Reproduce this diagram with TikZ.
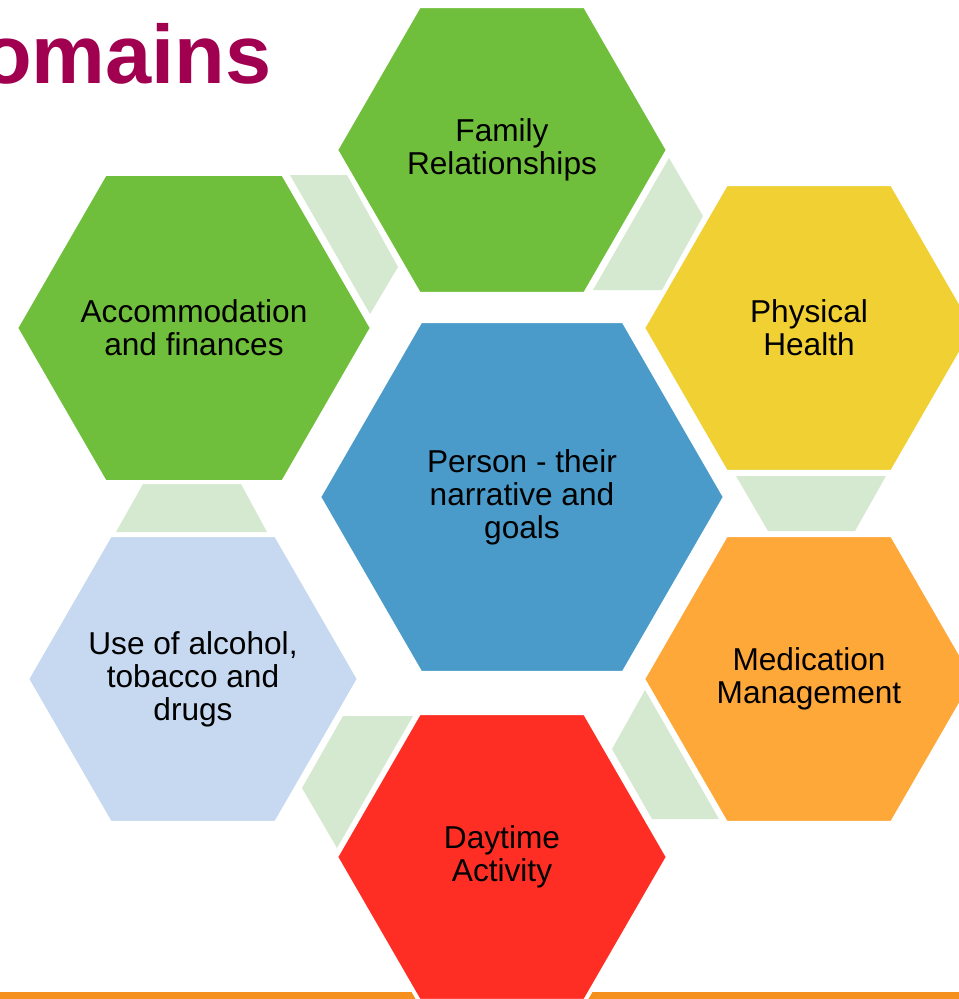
\documentclass[tikz,border=0pt]{standalone}
\usepackage{fontspec}
\setmainfont{Liberation Sans}
\usetikzlibrary{shapes.geometric}
\definecolor{hexgreen}{HTML}{70BF3C}
\definecolor{hexyellow}{HTML}{F0D032}
\definecolor{hexblue}{HTML}{4A9BC9}
\definecolor{hexorange}{HTML}{FFA83A}
\definecolor{hexred}{HTML}{FF2E24}
\definecolor{hexpale}{HTML}{C6D9F0}
\definecolor{linkgreen}{HTML}{D5E8D0}
\definecolor{titlered}{HTML}{A0004F}
\definecolor{barorange}{HTML}{F5901E}
\tikzset{
  hexa/.style={regular polygon, regular polygon sides=6, fill=#1, draw=white,
    line width=1mm, inner sep=-15mm, align=center,
    font=\fontsize{22.5}{23.4}\selectfont},
  link/.style={fill=linkgreen}
}

\begin{document}
\begin{tikzpicture}[x=0.25mm,y=-0.25mm]
   \useasboundingbox (0,0) rectangle (959,999);
   \fill[barorange] (0,992) rectangle (959,999);
   \begin{scope}
   \clip (0,0) rectangle (959,999);
   \node[anchor=base west, inner sep=0pt, text=titlered,
     font=\bfseries\fontsize{59}{70}\selectfont] (title) at (-19,83) {omains};
   % links between the domains
   \fill[link] (290,175) -- (347,175) -- (398,267) -- (370,314) -- cycle;
   \fill[link] (669,158) -- (703,216) -- (662,290) -- (593,290) -- cycle;
   \fill[link] (143,484) -- (241,484) -- (267,532) -- (116,532) -- cycle;
   \fill[link] (736,476) -- (886,476) -- (855,531) -- (768,531) -- cycle;
   \fill[link] (343,716) -- (413,716) -- (337,848) -- (302,788) -- cycle;
   \fill[link] (645,690) -- (612,749) -- (652,819) -- (719,819) -- cycle;
   % domains
   \node[hexa=hexgreen, minimum size=83mm] (family) at (502,150) {Family\\Relationships};
   \node[hexa=hexgreen, minimum size=89mm] (accom) at (194,328) {Accommodation\\and finances};
   \node[hexa=hexyellow, minimum size=83mm] (health) at (809,328) {Physical\\Health};
   \node[hexa=hexblue, minimum size=101.5mm] (person) at (522,497) {Person - their\\narrative and\\goals};
   \node[hexa=hexpale, minimum size=83mm] (alcohol) at (193,679) {Use of alcohol,\\tobacco and\\drugs};
   \node[hexa=hexorange, minimum size=83mm] (meds) at (809,679) {Medication\\Management};
   \node[hexa=hexred, minimum size=83mm] (daytime) at (502,857) {Daytime\\Activity};
   \end{scope}
\end{tikzpicture}
\end{document}
